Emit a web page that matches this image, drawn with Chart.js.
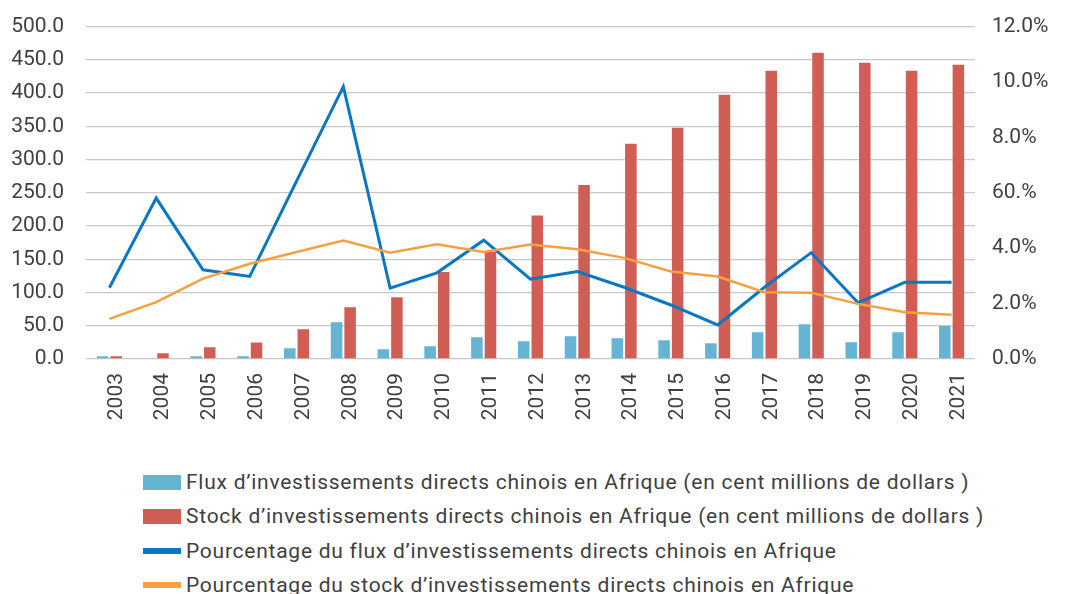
<!DOCTYPE html>
<html>
<head>
<meta charset="utf-8">
<script src="https://cdn.jsdelivr.net/npm/chart.js@4"></script>
<style>
  html, body { margin: 0; padding: 0; background: #fff; overflow: hidden; }
  #wrap { position: relative; width: 1066px; height: 594px; }
  #chartBox { position: absolute; left: 0; top: -8px; width: 1066px; height: 448px; }
  #legend { position: absolute; left: 143px; top: 465px; font-family: Roboto, sans-serif; font-size: 21px; letter-spacing: 0.75px; color: #404040; }
  .item { height: 34.3px; display: flex; align-items: center; white-space: nowrap; }
  .sw { width: 38px; margin-right: 5px; }
</style>
</head>
<body>
<div id="wrap">
  <div id="chartBox"><canvas id="chart" width="1066" height="448"></canvas></div>
  <div id="legend"></div>
</div>
<script>
// years on the x axis
const years = ['2003', '2004', '2005', '2006', '2007', '2008', '2009', '2010', '2011', '2012',
               '2013', '2014', '2015', '2016', '2017', '2018', '2019', '2020', '2021'];

// bars, hundred million dollars (left axis)
const fluxValues = [4.0, 1.0, 4.0, 4.0, 16.1, 55.3, 14.6, 19.0, 32.6, 26.6,
                    34.2, 31.2, 28.1, 23.6, 40.2, 52.3, 25.1, 40.2, 49.7];
const stockValues = [4.0, 8.5, 17.6, 25.0, 44.7, 77.9, 93.0, 130.7, 160.8, 216.0,
                     261.8, 323.6, 347.7, 397.5, 433.7, 460.8, 445.7, 433.7, 442.7];

// lines, percent (right axis)
const fluxPct = [2.57, 5.81, 3.22, 2.98, 6.42, 9.83, 2.56, 3.11, 4.29, 2.88,
                 3.16, 2.59, 1.95, 1.23, 2.59, 3.84, 2.03, 2.77, 2.77];
const stockPct = [1.45, 2.05, 2.90, 3.44, 3.86, 4.28, 3.84, 4.14, 3.86, 4.13,
                  3.96, 3.65, 3.16, 2.98, 2.41, 2.39, 1.99, 1.69, 1.60];

// right axis labels as printed (including the "60.%" typo)
const pctTickLabels = ['0.0%', '2.0%', '4.0%', '60.%', '8.0%', '10.0%', '12.0%'];

const labels = [
    'Flux d\u2019investissements directs chinois en Afrique (en cent millions de dollars )',
    'Stock d\u2019investissements directs chinois en Afrique (en cent millions de dollars )',
    'Pourcentage du flux d\u2019investissements directs chinois en Afrique',
    'Pourcentage du stock d\u2019investissements directs chinois en Afrique'
];
const colors = ['#65B4D4', '#D15E54', '#0A77C2', '#F8A040'];

const tickFont = { family: 'Roboto', size: 21 };
const tickColor = '#404040';

new Chart(document.getElementById('chart'), {
    data: {
        labels: years,
        datasets: [
            { type: 'bar', label: labels[0], data: fluxValues, backgroundColor: colors[0],
              yAxisID: 'y', order: 3, categoryPercentage: 0.58, barPercentage: 0.85 },
            { type: 'bar', label: labels[1], data: stockValues, backgroundColor: colors[1],
              yAxisID: 'y', order: 3, categoryPercentage: 0.58, barPercentage: 0.85 },
            { type: 'line', label: labels[2], data: fluxPct, borderColor: colors[2], borderWidth: 3,
              pointRadius: 0, tension: 0, yAxisID: 'y1', order: 2 },
            { type: 'line', label: labels[3], data: stockPct, borderColor: colors[3], borderWidth: 2.5,
              pointRadius: 0, tension: 0, yAxisID: 'y1', order: 1 }
        ]
    },
    options: {
        responsive: false,
        animation: false,
        layout: { padding: { top: 5, bottom: 0, left: 0, right: 0 } },
        plugins: { legend: { display: false }, tooltip: { enabled: false } },
        scales: {
            x: {
                grid: { display: false },
                border: { display: false },
                ticks: { font: tickFont, color: tickColor, minRotation: 90, maxRotation: 90,
                         padding: 6, labelOffset: 7 },
                afterFit: s => { s.height = 81; }
            },
            y: {
                position: 'left',
                min: 0, max: 500,
                grid: { color: '#C8C8C8', lineWidth: 1.3, drawTicks: false },
                border: { display: false },
                ticks: { stepSize: 50, font: tickFont, color: tickColor, padding: 22,
                         callback: v => v.toFixed(1) },
                afterFit: s => { s.width = 86; }
            },
            y1: {
                position: 'right',
                min: 0, max: 12,
                grid: { display: false },
                border: { display: false },
                ticks: { stepSize: 2, font: tickFont, color: tickColor, padding: 9,
                         callback: (v, i) => pctTickLabels[i] },
                afterFit: s => { s.width = 91; }
            }
        }
    }
});

// legend, one entry per line
const legend = document.getElementById('legend');
labels.forEach((text, i) => {
    const row = document.createElement('div');
    row.className = 'item';
    const sw = document.createElement('span');
    sw.className = 'sw';
    sw.style.height = i < 2 ? '15px' : '6px';
    sw.style.background = colors[i];
    row.appendChild(sw);
    row.appendChild(document.createTextNode(text));
    legend.appendChild(row);
});
</script>
</body>
</html>
